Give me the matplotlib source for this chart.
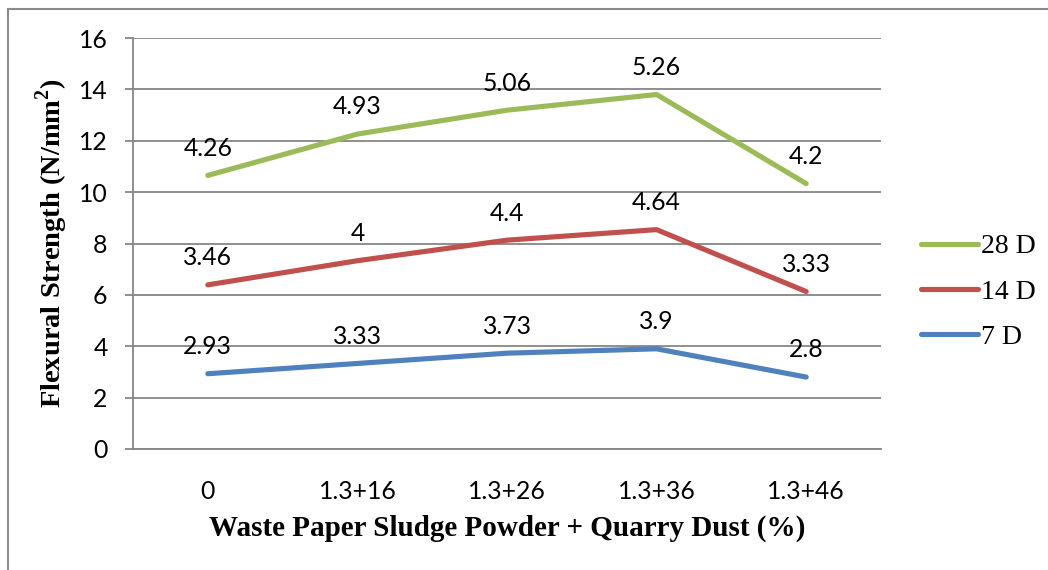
import matplotlib
matplotlib.use("Agg")
import matplotlib.pyplot as plt
from matplotlib.lines import Line2D
import numpy as np

# Mix designations (WPSP % + quarry dust %)
categories = ["0", "1.3+16", "1.3+26", "1.3+36", "1.3+46"]

# Flexural strength (N/mm²) by curing age
strength_7d = [2.93, 3.33, 3.73, 3.9, 2.8]
strength_14d = [3.46, 4, 4.4, 4.64, 3.33]
strength_28d = [4.26, 4.93, 5.06, 5.26, 4.2]

series_names = ["7 D", "14 D", "28 D"]
series_values = [strength_7d, strength_14d, strength_28d]
series_colors = ["#4F81BD", "#C0504D", "#9BBB59"]

y_ticks = [0, 2, 4, 6, 8, 10, 12, 14, 16]

grid_color = "#868686"
num_font = "Lato"
serif_font = "Liberation Serif"
num_size = 17.8

fig = plt.figure(figsize=(10.48, 5.70), dpi=100)
ax = fig.add_axes([133 / 1048, 1 - 449 / 570, (881 - 133) / 1048, (449 - 38) / 570])

x = np.arange(len(categories))

# Stacked lines: each series sits on top of the previous cumulative total
base = np.zeros(len(categories))
handles = {}
for name, vals, color in zip(series_names, series_values, series_colors):
    top = base + np.array(vals)
    line, = ax.plot(x, top, color=color, lw=3.7, solid_capstyle="round",
                    solid_joinstyle="round", zorder=3)
    handles[name] = line
    for xi, yi, v in zip(x, top, vals):
        ax.annotate(f"{v:g}", (xi, yi), xytext=(0, 19.5), textcoords="offset points",
                    ha="center", va="center", fontsize=num_size, family=num_font,
                    color="black", zorder=4)
    base = top

ax.set_xlim(-0.5, len(categories) - 0.5)
ax.set_ylim(0, 16)
ax.set_yticks(y_ticks)
ax.set_xticks(x)
ax.set_xticklabels(categories)

ax.yaxis.grid(True, color=grid_color, lw=1.3)
ax.set_axisbelow(True)
for side in ["top", "right"]:
    ax.spines[side].set_visible(False)
for side in ["left", "bottom"]:
    ax.spines[side].set_color(grid_color)
    ax.spines[side].set_linewidth(1.3)

ax.tick_params(axis="y", length=5.8, width=1.3, color=grid_color, pad=12.5,
               labelsize=num_size)
ax.tick_params(axis="x", length=0, pad=22, labelsize=num_size)
for lbl in ax.get_xticklabels() + ax.get_yticklabels():
    lbl.set_family(num_font)

ax.set_xlabel("Waste Paper Sludge Powder + Quarry Dust (%)", family=serif_font,
              fontweight="bold", fontsize=21, labelpad=9)
ax.set_ylabel("Flexural Strength (N/mm$^\\mathregular{2}$)", family=serif_font,
              fontweight="bold", fontsize=20.5, labelpad=6)

leg_order = ["28 D", "14 D", "7 D"]
leg = fig.legend([handles[n] for n in leg_order], leg_order,
                 loc="center left", bbox_to_anchor=(921 / 1048, 1 - 292 / 570),
                 frameon=False, handlelength=2.05, handletextpad=0.12,
                 labelspacing=0.72, borderpad=0, borderaxespad=0,
                 prop={"family": serif_font, "size": 20})

# Outer chart frame (top and left edges)
fig.add_artist(Line2D([8 / 1048, 8 / 1048], [0, 1 - 9 / 570], transform=fig.transFigure,
                      color="#8C8C8C", lw=1.5))
fig.add_artist(Line2D([8 / 1048, 1], [1 - 9 / 570, 1 - 9 / 570], transform=fig.transFigure,
                      color="#8C8C8C", lw=1.5))

fig.savefig("out.png", dpi=100, facecolor="white")
